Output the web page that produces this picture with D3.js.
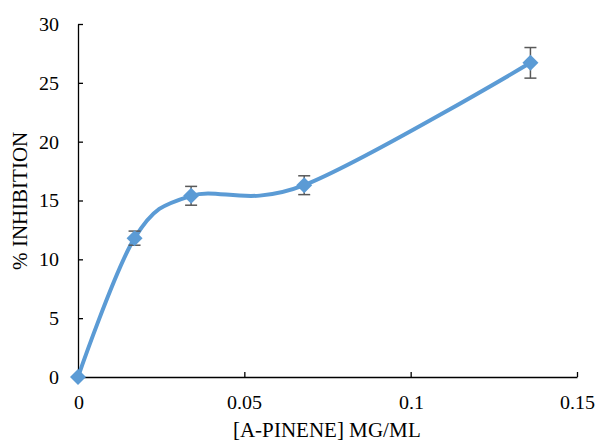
<!DOCTYPE html>
<html>
<head>
<meta charset="utf-8">
<script src="https://cdn.jsdelivr.net/npm/d3@7"></script>
<style>
  @font-face {
    font-family: "ChartSerif";
    src: local("Liberation Serif"), local("LiberationSerif"), local("LiberationSerif-Regular"),
         local("Times New Roman"), local("DejaVu Serif"), local("DejaVuSerif");
  }
  body { margin: 0; background: #fff; }
  svg { display: block; }
  svg text { font-family: "ChartSerif", "Liberation Serif", "DejaVu Serif", serif !important; fill: #000; }
</style>
</head>
<body>
<svg id="chart" width="597" height="441"></svg>
<script>
const concentrations = [0, 0.017, 0.034, 0.068, 0.136];
const inhibition = [0, 11.8, 15.4, 16.3, 26.7];
const errors = [0, 0.6, 0.8, 0.8, 1.3];
const xTicks = [0, 0.05, 0.1, 0.15];
const yTicks = [0, 5, 10, 15, 20, 25, 30];
const xTitle = "[A-PINENE] MG/ML";
const yTitle = "% INHIBITION";

const data = concentrations.map((c, i) => ({ x: c, y: inhibition[i], e: errors[i] }));

const svg = d3.select("#chart");
const x = d3.scaleLinear().domain([0, 0.15]).range([78, 577]);
const y = d3.scaleLinear().domain([0, 30]).range([377, 24]);

// axes
const xAxis = d3.axisBottom(x).tickValues(xTicks).tickSizeInner(-5).tickSizeOuter(0)
  .tickFormat(d => String(d));
const yAxis = d3.axisLeft(y).tickValues(yTicks).tickSizeInner(-5).tickSizeOuter(0)
  .tickFormat(d => String(d));

const gx = svg.append("g").attr("transform", `translate(0,${y(0)})`).call(xAxis);
const gy = svg.append("g").attr("transform", `translate(${x(0)},0)`).call(yAxis);

[gx, gy].forEach(g => {
  g.attr("font-family", null).attr("font-size", 20);
  g.select(".domain").attr("stroke", "#000").attr("stroke-width", 1.3);
  g.selectAll(".tick line").attr("stroke", "#000").attr("stroke-width", 1.3);
  g.selectAll(".tick text").attr("font-size", 20).attr("fill", "#000");
});
gx.selectAll(".tick text").attr("y", 18).attr("dy", "0.71em");
gy.selectAll(".tick text").attr("x", -19).attr("dy", "0.32em");

// titles
svg.append("text")
  .attr("x", (x(0) + x(0.15)) / 2 - 1)
  .attr("y", 437)
  .attr("text-anchor", "middle")
  .attr("font-size", 20.5)
  .text(xTitle);

svg.append("text")
  .attr("transform", `translate(27,${(y(0) + y(30)) / 2}) rotate(-90)`)
  .attr("text-anchor", "middle")
  .attr("font-size", 20.5)
  .text(yTitle);

// line
const line = d3.line().x(d => x(d.x)).y(d => y(d.y)).curve(d3.curveCardinal.tension(0));
svg.append("path")
  .datum(data)
  .attr("d", line)
  .attr("fill", "none")
  .attr("stroke", "#5B9BD5")
  .attr("stroke-width", 4)
  .attr("stroke-linecap", "round");

// error bars
const eb = svg.append("g").attr("stroke", "#595959").attr("stroke-width", 1.5);
data.filter(d => d.e > 0).forEach(d => {
  eb.append("line").attr("x1", x(d.x)).attr("x2", x(d.x)).attr("y1", y(d.y + d.e)).attr("y2", y(d.y - d.e));
  eb.append("line").attr("x1", x(d.x) - 6).attr("x2", x(d.x) + 6).attr("y1", y(d.y + d.e)).attr("y2", y(d.y + d.e));
  eb.append("line").attr("x1", x(d.x) - 6).attr("x2", x(d.x) + 6).attr("y1", y(d.y - d.e)).attr("y2", y(d.y - d.e));
});

// markers
const sym = d3.symbol().type(d3.symbolSquare).size(128);
svg.append("g").selectAll("path").data(data).join("path")
  .attr("d", sym)
  .attr("transform", d => `translate(${x(d.x)},${y(d.y)}) rotate(45)`)
  .attr("fill", "#5B9BD5");
</script>
</body>
</html>
